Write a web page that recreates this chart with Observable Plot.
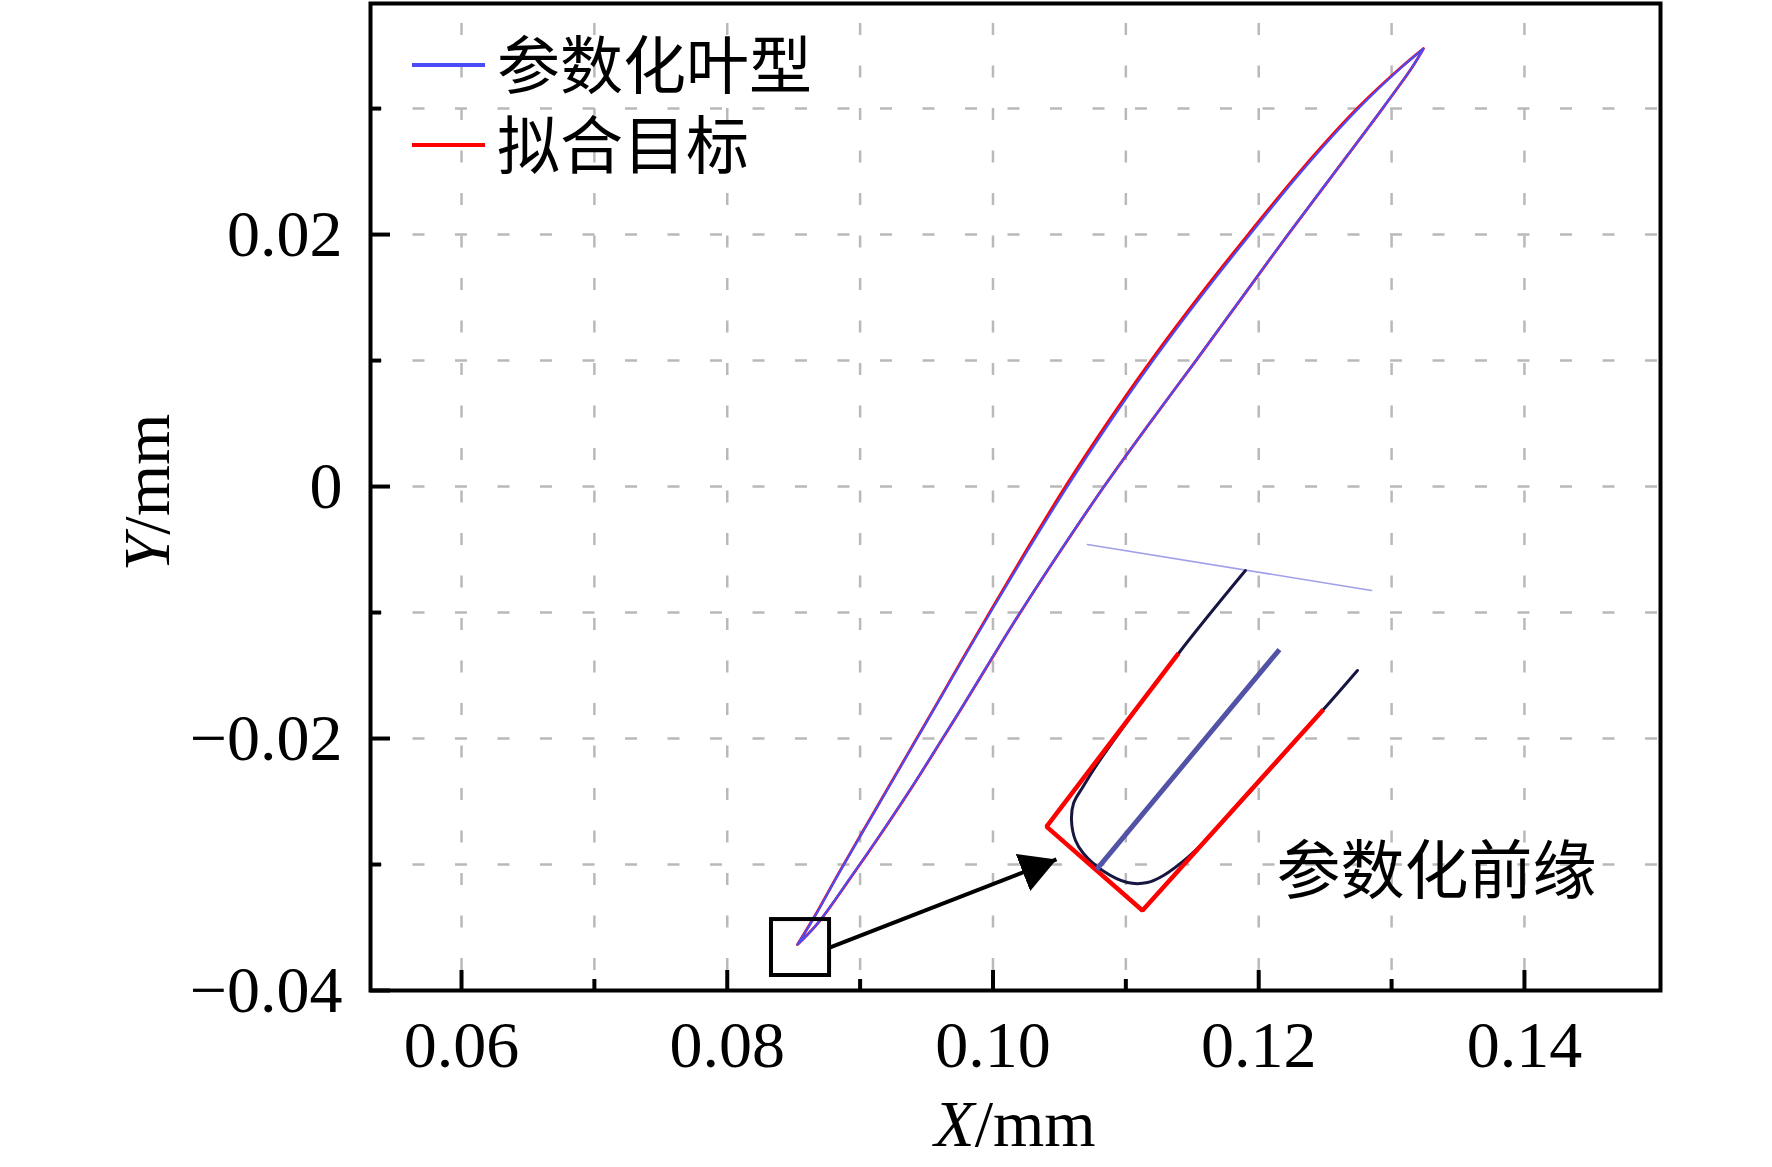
<!DOCTYPE html>
<html>
<head>
<meta charset="utf-8">
<script src="https://cdn.jsdelivr.net/npm/d3@7"></script>
<script src="https://cdn.jsdelivr.net/npm/@observablehq/plot@0.6"></script>
<style>
  html, body { margin: 0; padding: 0; background: #fff; }
  #chart { width: 1772px; height: 1167px; }
</style>
</head>
<body>
<div id="chart"></div>
<script>
// ---------------- data ----------------
const seriesNames = ["参数化叶型", "拟合目标"];

const xMajorTicks = [0.06, 0.08, 0.10, 0.12, 0.14];
const xTickLabels = ["0.06", "0.08", "0.10", "0.12", "0.14"];
const xMinorTicks = [0.07, 0.09, 0.11, 0.13];
const yMajorTicks = [-0.04, -0.02, 0, 0.02];
const yTickLabels = ["−0.04", "−0.02", "0", "0.02"];
const yMinorTicks = [-0.03, -0.01, 0.01, 0.03];
const xGridValues = [0.06, 0.07, 0.08, 0.09, 0.10, 0.11, 0.12, 0.13, 0.14];
const yGridValues = [-0.03, -0.02, -0.01, 0, 0.01, 0.02, 0.03];

// parametrised blade (blue): suction side (upper-left) and pressure side (lower-right), LE -> TE
const paramUpperX = [0.08529, 0.08654, 0.08839, 0.09026, 0.09214, 0.09406, 0.09594, 0.09786, 0.09981, 0.10266, 0.10560, 0.10873, 0.11205, 0.11560, 0.11941, 0.12329, 0.12758, 0.13074, 0.13240];
const paramUpperY = [-0.03635, -0.03421, -0.03072, -0.02730, -0.02389, -0.02040, -0.01699, -0.01349, -0.01000, -0.00500, 0.00000, 0.00500, 0.01000, 0.01500, 0.02008, 0.02508, 0.03008, 0.03326, 0.03476];
const paramLowerX = [0.08529, 0.08679, 0.08928, 0.09172, 0.09406, 0.09619, 0.09797, 0.09994, 0.10204, 0.10513, 0.10835, 0.11176, 0.11527, 0.11873, 0.12225, 0.12581, 0.12936, 0.13153, 0.13240];
const paramLowerY = [-0.03635, -0.03468, -0.03103, -0.02730, -0.02357, -0.02000, -0.01699, -0.01357, -0.01000, -0.00500, 0.00000, 0.00500, 0.01000, 0.01500, 0.02008, 0.02508, 0.03008, 0.03326, 0.03476];

// fitting target (red)
const targetUpperX = [0.08529, 0.08652, 0.08837, 0.09024, 0.09212, 0.09404, 0.09591, 0.09782, 0.09975, 0.10255, 0.10545, 0.10857, 0.11189, 0.11544, 0.11926, 0.12316, 0.12748, 0.13070, 0.13240];
const targetUpperY = [-0.03635, -0.03421, -0.03072, -0.02730, -0.02389, -0.02040, -0.01699, -0.01349, -0.01000, -0.00500, 0.00000, 0.00500, 0.01000, 0.01500, 0.02008, 0.02508, 0.03008, 0.03326, 0.03476];
const targetLowerX = [0.08529, 0.08681, 0.08930, 0.09174, 0.09408, 0.09621, 0.09799, 0.09996, 0.10206, 0.10515, 0.10836, 0.11177, 0.11528, 0.11874, 0.12226, 0.12582, 0.12937, 0.13154, 0.13240];
const targetLowerY = [-0.03635, -0.03468, -0.03103, -0.02730, -0.02357, -0.02000, -0.01699, -0.01357, -0.01000, -0.00500, 0.00000, 0.00500, 0.01000, 0.01500, 0.02008, 0.02508, 0.03008, 0.03326, 0.03476];

// magnified leading-edge inset (drawn in the chart's own units)
const insetOutlineX = [0.11900, 0.11396, 0.10787, 0.10674, 0.10606, 0.10591, 0.10621, 0.10681, 0.10824, 0.11012, 0.11163, 0.11283, 0.11464, 0.11584, 0.12487, 0.12743];
const insetOutlineY = [-0.00667, -0.01325, -0.02199, -0.02389, -0.02516, -0.02651, -0.02810, -0.02913, -0.03048, -0.03143, -0.03143, -0.03087, -0.02945, -0.02826, -0.01770, -0.01460];
const insetBoxX = [0.11396, 0.10403, 0.11125, 0.12487];
const insetBoxY = [-0.01325, -0.02699, -0.03365, -0.01770];
const insetCamberX = [0.10779, 0.12156];
const insetCamberY = [-0.03040, -0.01294];
const insetChordX = [0.10711, 0.12849];
const insetChordY = [-0.00460, -0.00825];
const zoomBoxX = [0.08333, 0.08770];
const zoomBoxY = [-0.03881, -0.03437];
const arrowX = [0.08770, 0.10478];
const arrowY = [-0.03659, -0.02960];
const insetLabel = "参数化前缘";
const insetLabelX = [0.12134];
const insetLabelY = [-0.03064];

const xDomain = [0.05315, 0.15024];
const yDomain = [-0.04, 0.03834];

// ---------------- tables ----------------
const toRows = (xs, ys) => xs.map((x, i) => ({x, y: ys[i]}));
const paramLoop = toRows(paramUpperX, paramUpperY).concat(toRows(paramLowerX, paramLowerY).reverse());
const targetLoop = toRows(targetUpperX, targetUpperY).concat(toRows(targetLowerX, targetLowerY).reverse());
const insetOutline = toRows(insetOutlineX, insetOutlineY);
const insetBox = toRows(insetBoxX, insetBoxY);
const insetCamber = toRows(insetCamberX, insetCamberY);
const insetChord = toRows(insetChordX, insetChordY);

const BLUE = "#4b4bf7";
const RED = "#ff0000";
const serif = "Liberation Serif, Times New Roman, serif";
const cjk = "Noto Sans CJK SC, sans-serif";
const NS = "http://www.w3.org/2000/svg";

function svgEl(tag, attrs, text) {
  const e = document.createElementNS(NS, tag);
  for (const k in attrs) e.setAttribute(k, attrs[k]);
  if (text != null) e.textContent = text;
  return e;
}

// legend drawn inside the frame
function legendMark(index, scales, values, dims) {
  const g = svgEl("g", {"text-anchor": "start"});
  const x0 = dims.marginLeft + 42, x1 = dims.marginLeft + 115;
  const colors = [BLUE, RED];
  seriesNames.forEach((name, i) => {
    const y = dims.marginTop + 62 + i * 80;
    g.appendChild(svgEl("line", {x1: x0, x2: x1, y1: y, y2: y, stroke: colors[i], "stroke-width": 4}));
    g.appendChild(svgEl("text", {x: x1 + 12, y: y - 5, "text-anchor": "start", "dominant-baseline": "central", "font-family": cjk, "font-size": 63, fill: "black"}, name));
  });
  return g;
}

// axis titles with italic variable letter
function axisTitles(index, scales, values, dims) {
  const g = svgEl("g", {});
  const cx = dims.marginLeft + (dims.width - dims.marginLeft - dims.marginRight) / 2;
  const tx = svgEl("text", {x: cx, y: dims.height - dims.marginBottom + 156, "text-anchor": "middle", "font-family": serif, "font-size": 66, fill: "black"});
  tx.appendChild(svgEl("tspan", {"font-style": "italic"}, "X"));
  tx.appendChild(svgEl("tspan", {}, "/mm"));
  g.appendChild(tx);
  const cy = dims.marginTop + (dims.height - dims.marginTop - dims.marginBottom) / 2;
  const lx = dims.marginLeft - 201;
  const ty = svgEl("text", {x: 0, y: 0, "text-anchor": "middle", "font-family": serif, "font-size": 66, fill: "black", transform: `translate(${lx},${cy - 4}) rotate(-90)`});
  ty.appendChild(svgEl("tspan", {"font-style": "italic"}, "Y"));
  ty.appendChild(svgEl("tspan", {}, "/mm"));
  g.appendChild(ty);
  return g;
}

const gridStyle = {stroke: "#b9b9b9", strokeOpacity: 1, strokeWidth: 2.5, strokeDasharray: "12,30.5"};

const chart = Plot.plot({
  width: 1772,
  height: 1167,
  marginLeft: 370,
  marginRight: 112,
  marginTop: 3,
  marginBottom: 177,
  style: {background: "white", overflow: "visible"},
  x: {type: "linear", domain: xDomain, nice: false},
  y: {type: "linear", domain: yDomain, nice: false},
  marks: [
    Plot.gridX(xGridValues, {...gridStyle, strokeDashoffset: -20}),
    Plot.gridY(yGridValues, gridStyle),
    // inward ticks
    Plot.axisX(xMajorTicks, {tickSize: -20, strokeWidth: 4, tickFormat: () => "", label: null}),
    Plot.axisX(xMinorTicks, {tickSize: -11, strokeWidth: 4, tickFormat: () => "", label: null}),
    Plot.axisY(yMajorTicks, {tickSize: -20, strokeWidth: 4, tickFormat: () => "", label: null}),
    Plot.axisY(yMinorTicks, {tickSize: -11, strokeWidth: 4, tickFormat: () => "", label: null}),
    // tick labels
    Plot.axisX(xMajorTicks, {tickSize: 0, tickPadding: 30, tickFormat: d => xTickLabels[xMajorTicks.indexOf(d)], fontSize: 66, fontFamily: serif, fill: "black", label: null}),
    Plot.axisY(yMajorTicks, {tickSize: 0, tickPadding: 28, tickFormat: d => yTickLabels[yMajorTicks.indexOf(d)], fontSize: 66, fontFamily: serif, fill: "black", label: null}),
    // blade
    Plot.line(targetLoop, {x: "x", y: "y", stroke: RED, strokeWidth: 2.8, curve: "catmull-rom"}),
    Plot.line(paramLoop, {x: "x", y: "y", stroke: BLUE, strokeWidth: 2.2, curve: "catmull-rom"}),
    // zoom box and arrow
    Plot.rect([0], {x1: () => zoomBoxX[0], x2: () => zoomBoxX[1], y1: () => zoomBoxY[0], y2: () => zoomBoxY[1], fill: "none", stroke: "black", strokeWidth: 4}),
    Plot.link([0], {x1: () => arrowX[0], y1: () => arrowY[0], x2: () => arrowX[1], y2: () => arrowY[1], stroke: "black", strokeWidth: 4}),
    // inset
    Plot.line(insetChord, {x: "x", y: "y", stroke: "#a0a0ea", strokeWidth: 1.6}),
    Plot.line(insetOutline, {x: "x", y: "y", stroke: "#161640", strokeWidth: 3, curve: "catmull-rom"}),
    Plot.line(insetBox, {x: "x", y: "y", stroke: RED, strokeWidth: 4.5, strokeLinejoin: "miter", strokeLinecap: "butt"}),
    Plot.line(insetCamber, {x: "x", y: "y", stroke: "#5252a6", strokeWidth: 5, strokeLinecap: "butt"}),
    Plot.text([insetLabel], {x: () => insetLabelX[0], y: () => insetLabelY[0], text: d => d, textAnchor: "start", lineAnchor: "middle", fontSize: 64, fontFamily: cjk, fill: "black"}),
    // frame
    Plot.frame({stroke: "black", strokeWidth: 4}),
    legendMark,
    axisTitles
  ]
});

// filled arrow head
const defs = svgEl("defs", {});
const marker = svgEl("marker", {id: "ahead", viewBox: "0 -20 36 40", refX: 36, refY: 0, markerWidth: 36, markerHeight: 40, markerUnits: "userSpaceOnUse", orient: "auto"});
marker.appendChild(svgEl("path", {d: "M0,-20L36,0L0,20Z", fill: "black"}));
defs.appendChild(marker);
chart.insertBefore(defs, chart.firstChild);
const shafts = chart.querySelectorAll('g[aria-label="link"] path, g[aria-label="link"] line');
shafts.forEach(p => p.setAttribute("marker-end", "url(#ahead)"));

document.getElementById("chart").appendChild(chart);
</script>
</body>
</html>
